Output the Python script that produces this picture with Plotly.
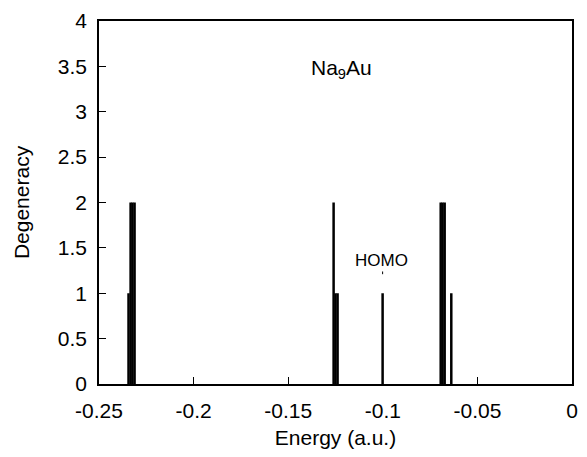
import plotly.graph_objects as go

# Data: energy levels (a.u.) and their degeneracies
energies = [-0.2344, -0.2333, -0.2323, -0.2312,
            -0.1260, -0.1250, -0.1239,
            -0.1001,
            -0.0694, -0.0684, -0.0673, -0.0638]
degeneracy = [1, 2, 2, 2,
              2, 1, 1,
              1,
              2, 2, 2, 1]
homo_energy = -0.1001

x_ticks = [-0.25, -0.2, -0.15, -0.1, -0.05, 0]
x_tick_labels = ["-0.25", "-0.2", "-0.15", "-0.1", "-0.05", "0"]
y_ticks = [0, 0.5, 1, 1.5, 2, 2.5, 3, 3.5, 4]
y_tick_labels = ["0", "0.5", "1", "1.5", "2", "2.5", "3", "3.5", "4"]

xs, ys = [], []
for e, d in zip(energies, degeneracy):
    xs += [e, e, None]
    ys += [0, d, None]

fig = go.Figure()
fig.add_trace(go.Scatter(x=xs, y=ys, mode="lines",
                         line=dict(color="black", width=2.5),
                         showlegend=False, hoverinfo="skip"))

FAM = "Liberation Sans"
SZ = 21
font = dict(family=FAM, size=SZ, color="black")

fig.update_layout(
    width=587, height=457,
    margin=dict(l=99, r=9, t=20, b=73),
    plot_bgcolor="white", paper_bgcolor="white",
    font=font,
    xaxis=dict(range=[-0.25, 0], tickvals=x_ticks, ticktext=x_tick_labels,
               tickfont=dict(family=FAM, size=SZ, color="black"),
               ticks="inside", ticklen=7, tickcolor="black", tickwidth=1,
               ticklabelstandoff=7,
               showline=True, linecolor="black", linewidth=1.5, mirror=True,
               showgrid=False, zeroline=False,
               title=dict(text="Energy (a.u.)", font=dict(family=FAM, size=SZ, color="black"),
                          standoff=9)),
    yaxis=dict(range=[0, 4], tickvals=y_ticks, ticktext=y_tick_labels,
               tickfont=dict(family=FAM, size=SZ, color="black"),
               ticks="inside", ticklen=7, tickcolor="black", tickwidth=1,
               ticklabelstandoff=6,
               showline=True, linecolor="black", linewidth=1.5, mirror=True,
               showgrid=False, zeroline=False,
               title=dict(text="Degeneracy", font=dict(family=FAM, size=SZ, color="black"),
                          standoff=22)),
    annotations=[
        dict(x=-0.1220, y=3.47, xref="x", yref="y",
             text="Na<sub>9</sub>Au", showarrow=False,
             font=dict(family=FAM, size=SZ, color="black")),
        dict(x=-0.1005, y=1.36, xref="x", yref="y",
             text="HOMO", showarrow=False,
             font=dict(family=FAM, size=17, color="black")),
    ],
    shapes=[
        dict(type="line", xref="x", yref="y", x0=homo_energy, x1=homo_energy,
             y0=1.21, y1=1.24, line=dict(color="black", width=1)),
    ],
)

fig.write_html("out.html")
